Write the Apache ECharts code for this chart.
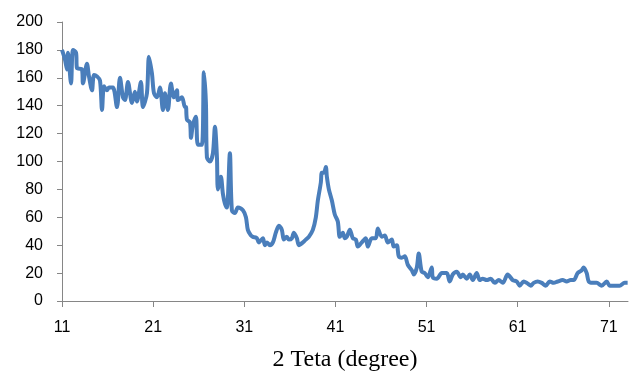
<!DOCTYPE html>
<html>
<head>
<meta charset="utf-8">
<script src="https://cdn.jsdelivr.net/npm/echarts@6/dist/echarts.min.js"></script>
<style>
  html, body { margin: 0; padding: 0; background: #fff; }
  #chart { width: 629px; height: 373px; }
</style>
</head>
<body>
<div id="chart"></div>
<script>
// 2 theta (degree)
var teta = [
  11.00, 11.33, 11.55, 11.66, 11.99, 12.21, 12.54, 12.64, 13.19, 13.30,
  13.74, 13.96, 14.29, 14.51, 14.84, 15.17, 15.39, 15.61, 15.93, 16.15,
  16.59, 17.03, 17.36, 17.69, 17.91, 18.24, 18.68, 19.00, 19.22, 19.66,
  19.88, 20.32, 20.54, 20.87, 21.09, 21.42, 21.75, 22.07, 22.29, 22.62,
  22.95, 23.28, 23.61, 23.72, 24.16, 24.49, 24.60, 24.71, 25.04, 25.15,
  25.36, 25.69, 25.91, 26.35, 26.57, 26.79, 26.90, 27.23, 27.56, 27.78,
  28.00, 28.11, 28.43, 28.65, 28.87, 29.09, 29.42, 29.64, 29.97, 30.30,
  30.85, 31.18, 31.39, 31.72, 31.94, 32.38, 32.60, 33.04, 33.26, 33.48,
  33.81, 34.14, 34.46, 34.79, 35.12, 35.34, 35.67, 35.89, 36.22, 36.44,
  36.77, 36.99, 37.43, 37.75, 38.08, 38.52, 38.85, 39.07, 39.40, 39.51,
  39.73, 39.95, 40.06, 40.28, 40.61, 40.93, 41.26, 41.48, 41.81, 42.03,
  42.25, 42.58, 42.91, 43.24, 43.46, 43.89, 44.33, 44.55, 44.99, 45.43,
  45.65, 46.09, 46.42, 46.75, 47.18, 47.40, 47.73, 47.95, 48.28, 48.61,
  48.94, 49.38, 49.60, 49.93, 50.14, 50.47, 50.80, 51.13, 51.57, 51.68,
  52.12, 52.67, 53.21, 53.54, 53.87, 54.31, 54.75, 54.97, 55.41, 55.74,
  56.07, 56.50, 56.83, 57.16, 57.60, 58.04, 58.48, 58.92, 59.36, 59.90,
  60.45, 60.89, 61.22, 61.66, 61.99, 62.43, 62.75, 63.19, 63.63, 64.07,
  64.51, 64.95, 65.39, 65.93, 66.37, 66.81, 67.14, 67.58, 68.02, 68.24,
  68.57, 68.79, 69.22, 69.66, 70.21, 70.76, 71.09, 71.64, 72.18, 72.73,
  73.06
];

var intensity = [
  180, 173, 166, 178, 156, 180, 178, 167, 166, 156,
  170, 161, 151, 162, 161, 158, 137, 154, 151, 153,
  153, 139, 160, 146, 144, 157, 142, 150, 143, 157,
  139, 149, 175, 163, 149, 146, 153, 137, 149, 137,
  156, 146, 151, 144, 146, 139, 139, 130, 128, 117,
  126, 132, 112, 112, 164, 142, 103, 100, 106, 125,
  103, 80, 89, 77, 70, 67, 106, 65, 63, 67,
  65, 60, 51, 47, 46, 45, 42, 45, 40, 42,
  40, 42, 49, 54, 51, 44, 46, 44, 45, 49,
  45, 40, 42, 44, 46, 51, 60, 72, 85, 92,
  92, 96, 89, 80, 72, 62, 57, 46, 49, 45,
  46, 51, 45, 44, 39, 42, 45, 39, 45, 45,
  52, 46, 47, 42, 44, 39, 40, 32, 31, 32,
  26, 22, 19, 24, 34, 21, 20, 17, 24, 17,
  16, 20, 20, 14, 19, 21, 17, 19, 16, 19,
  15, 20, 15, 16, 15, 16, 13, 15, 13, 19,
  15, 14, 11, 14, 13, 11, 13, 14, 13, 11,
  14, 13, 14, 15, 14, 15, 15, 20, 22, 24,
  20, 14, 13, 13, 11, 14, 11, 11, 11, 13,
  13
];

var xTicks = [11, 21, 31, 41, 51, 61, 71];

var points = teta.map(function (t, i) { return [t, intensity[i]]; });

var chart = echarts.init(document.getElementById('chart'));
chart.setOption({
  animation: false,
  grid: { left: 62, right: 1, top: 22, bottom: 72, outerBoundsMode: 'none' },
  xAxis: {
    type: 'value',
    min: 11,
    max: 73.1,
    name: '2 Teta (degree)',
    nameLocation: 'middle',
    nameGap: 47,
    nameTextStyle: { fontFamily: 'Liberation Serif', fontSize: 24, color: '#000' },
    axisLine: { lineStyle: { color: '#868686', width: 1 } },
    axisTick: { customValues: xTicks, length: 6, lineStyle: { color: '#868686' } },
    axisLabel: {
      customValues: xTicks,
      margin: 19,
      fontFamily: 'Liberation Sans',
      fontSize: 16,
      color: '#000'
    },
    splitLine: { show: false }
  },
  yAxis: {
    type: 'value',
    min: 0,
    max: 200,
    interval: 20,
    axisLine: { show: true, lineStyle: { color: '#868686', width: 1 } },
    axisTick: { show: true, length: 5, lineStyle: { color: '#868686' } },
    axisLabel: { margin: 19, fontFamily: 'Liberation Sans', fontSize: 16, color: '#000' },
    splitLine: { show: false }
  },
  series: [{
    type: 'line',
    data: points,
    smooth: 0.3,
    showSymbol: false,
    lineStyle: { color: '#4a7ebb', width: 4 }
  }]
});
</script>
</body>
</html>
